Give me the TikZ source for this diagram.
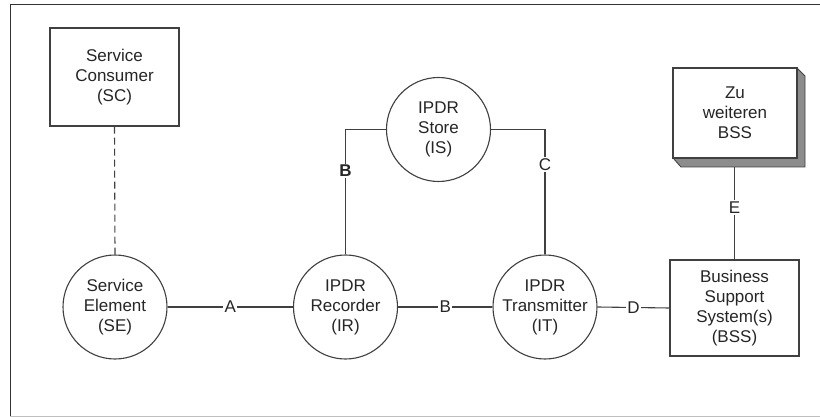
\documentclass[tikz,border=0pt]{standalone}
\usepackage{fontspec}
\setmainfont{Liberation Sans}
\begin{document}
\begin{tikzpicture}[x=1pt,y=-1pt,
  every node/.style={font=\fontsize{17}{20}\selectfont, text=black!85},
  ln/.style={draw=black!75, line width=1.1pt},
  circ/.style={circle, ln, minimum size=104pt, inner sep=0pt, align=center, fill=white},
  box/.style={rectangle, ln, inner sep=0pt, align=center, fill=white},
  lbl/.style={fill=white, inner sep=1.5pt}
]
\useasboundingbox (0,0) rectangle (820,417);
% frame
\draw[black!80, line width=1pt] (10,416) -- (10,5) -- (820,5);
\draw[black!25, line width=0.8pt] (10,416) -- (820,416);

% nodes
\node[box, minimum width=129pt, minimum height=98pt] (SC) at (114.5,77) {Service\\Consumer\\(SC)};
\node[circ] (SE) at (115,307) {Service\\Element\\(SE)};
\node[circ] (IR) at (345.5,307) {IPDR\\Recorder\\(IR)};
\node[circ] (IS) at (438.5,129.5) {IPDR\\Store\\(IS)};
\node[circ] (IT) at (545,307) {IPDR\\Transmitter\\(IT)};
\node[box, minimum width=129pt, minimum height=96pt] (BSS) at (734.5,308) {Business\\Support\\System(s)\\(BSS)};

% shadowed box
\fill[black!45, draw=black!75, line width=0.8pt]
  (797,68) -- (805,76) -- (805,167) -- (681,167) -- (673,158) -- (797,158) -- cycle;
\node[box, minimum width=124pt, minimum height=90pt] (ZU) at (735,113) {Zu\\weiteren\\BSS};
\coordinate (ZUb) at (734.5,167);

% connectors
\draw[ln, dash pattern=on 7pt off 4pt] (SC.south) -- (SE.north);
\draw[ln] (SE.east) -- node[lbl]{A} (IR.west);
\draw[ln] (IR.east) -- node[lbl]{B} (IT.west);
\draw[ln] (IT.east) -- node[lbl]{D} (BSS.west);
\draw[ln] (IR.north) -- node[lbl, pos=0.667]{\textbf{B}} (IR.north |- IS.west) -- (IS.west);
\draw[ln] (IS.east) -- (IS.east -| IT.north) -- node[lbl, pos=0.28]{C} (IT.north);
\draw[ln] (ZUb) -- node[lbl, pos=0.44]{E} (BSS.north);
\end{tikzpicture}
\end{document}
